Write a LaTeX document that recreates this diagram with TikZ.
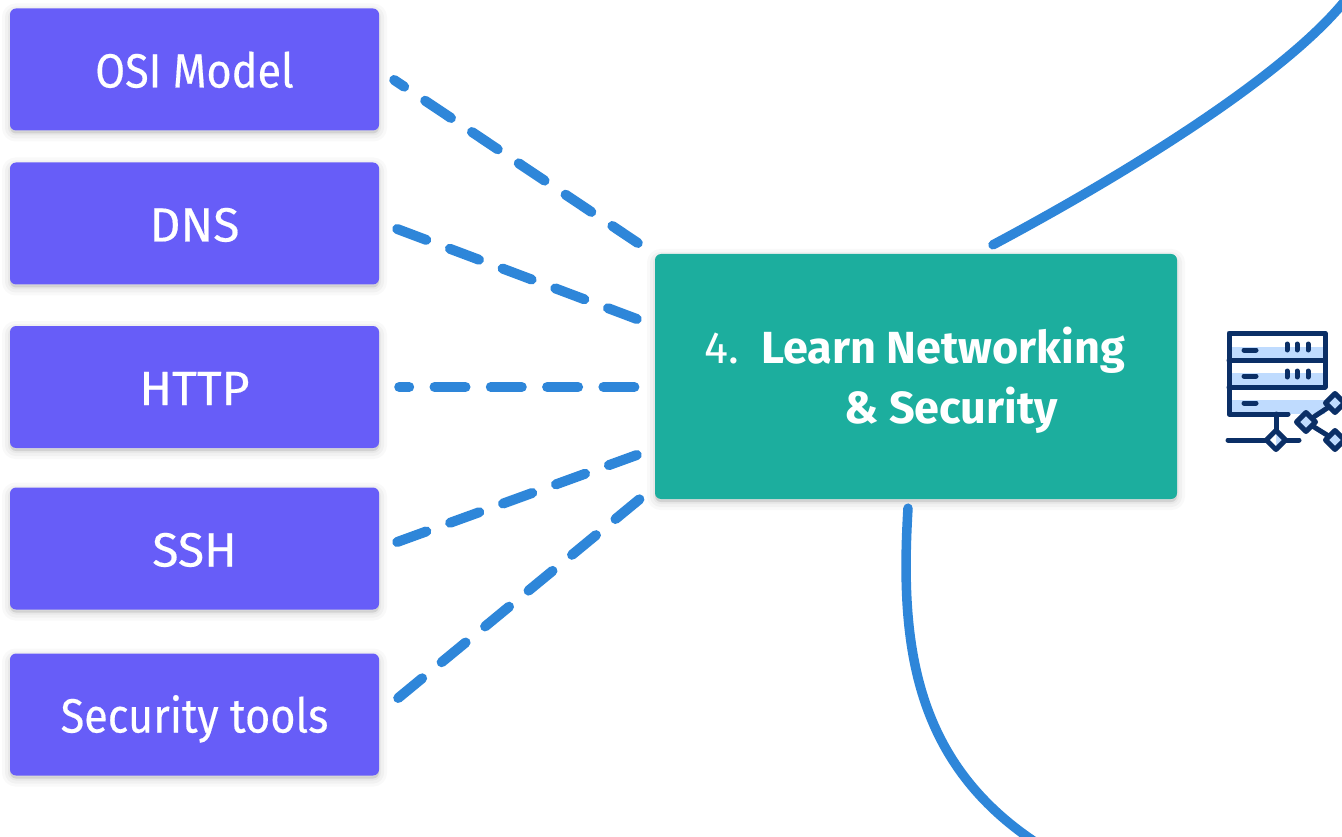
\documentclass[tikz,border=0pt]{standalone}
\usepackage{fontspec}
\setmainfont{Fira Sans}
\newfontfamily\topicfont[FakeBold=.35, FakeStretch=.9]{Fira Sans}
\newfontfamily\capsfont[FakeBold=.35]{Fira Sans}
\usetikzlibrary{positioning}
\usetikzlibrary{shapes,shadows,arrows}
\definecolor{topicblue}{HTML}{675DF8}
\definecolor{maingreen}{HTML}{1CAE9E}
\definecolor{linkblue}{HTML}{2E86D9}
\definecolor{icondark}{HTML}{0B2F66}
\definecolor{iconlight}{HTML}{BFDBFE}
\tikzset{
  softshadow/.style={
    drop shadow={shadow xshift=0pt, shadow yshift=-3pt, opacity=.025, fill=black, draw=black, line width=16pt},
    drop shadow={shadow xshift=0pt, shadow yshift=-3pt, opacity=.03, fill=black, draw=black, line width=10pt},
    drop shadow={shadow xshift=0pt, shadow yshift=-3pt, opacity=.035, fill=black, draw=black, line width=4pt}},
  topic/.style={rectangle, rounded corners=6pt, fill=topicblue, text=white, minimum width=369pt, minimum height=122pt, inner sep=0pt, text height=36pt, text depth=0pt, font=\fontsize{48}{56}\topicfont, softshadow},
  capstopic/.style={topic, font=\fontsize{48}{56}\capsfont},
  mainbox/.style={rectangle, rounded corners=6pt, fill=maingreen, text=white, minimum width=522pt, minimum height=245pt, inner sep=0pt, softshadow},
  maintext/.style={text=white, anchor=base west, inner sep=0pt, font=\fontsize{45}{54}\selectfont},
  dashlink/.style={linkblue, line width=10pt, line cap=round, dash pattern=on 31pt off 25.3pt},
  curvelink/.style={linkblue, line width=9.5pt, line cap=round},
  iconline/.style={icondark, line width=5pt, line cap=round, line join=round},
  icondiamond/.style={icondark, line width=5pt, line join=round, fill=iconlight},
}
\begin{document}
\begin{tikzpicture}[x=1pt, y=-1pt]
\useasboundingbox (0,0) rectangle (1342,837);
\clip (0,0) rectangle (1342,837);
\fill [white] (0,0) rectangle (1342,837);
\node [topic] (osi) at (194.5,69.5) {OSI Model};
\node [capstopic] (dns) at (194.5,223.5) {DNS};
\node [capstopic] (http) at (194.5,387) {HTTP};
\node [capstopic] (ssh) at (194.5,548.5) {SSH};
\node [topic] (sectools) at (194.5,714.5) {Security tools};
\node [mainbox] (net) at (916,376.5) {};
\node [maintext] (num) at (704,363) {4.};
\node [maintext, font=\fontsize{45}{54}\selectfont\bfseries] (learn) at (761,363) {Learn Networking};
\node [maintext, font=\fontsize{45}{54}\selectfont\bfseries] (sec) at (844,423) {\& Security};
% dashed links
\draw [dashlink, dash phase=19pt] ([shift={(15,10.5)}]osi.east) -- ([shift={(-17,-133.5)}]net.west);
\draw [dashlink] ([shift={(18,5.5)}]dns.east) -- ([shift={(-18,-57.5)}]net.west);
\draw [dashlink, dash phase=21pt] ([shift={(20,0)}]http.east) -- ([shift={(-20,10.5)}]net.west);
\draw [dashlink] ([shift={(18,-6.5)}]ssh.east) -- ([shift={(-18,78.5)}]net.west);
\draw [dashlink] ([shift={(19,-16.5)}]sectools.east) -- ([shift={(-15,122.5)}]net.west);
% curves
\draw [curvelink] ([shift={(77,-9)}]net.north) .. controls (1111,182) and (1285,78) .. (1348,-3);
\draw [curvelink] ([shift={(-8,9)}]net.south) .. controls (900,640) and (912,760) .. (1035,842);
% icon
\fill [white] (1228,333) rectangle (1325,414);
\fill [iconlight] (1228,347) rectangle (1325,360);
\fill [iconlight] (1228,373) rectangle (1325,387);
\fill [iconlight] (1228,400) rectangle (1325,414);
\draw [iconline] (1288,414) -- (1229,414) -- (1229,333) -- (1325,333) -- (1325,387);
\draw [iconline] (1229,360) -- (1325,360);
\draw [iconline] (1229,387) -- (1325,387);
\draw [iconline] (1244,350) -- (1256,350);
\draw [iconline] (1244,376) -- (1256,376);
\draw [iconline] (1244,403) -- (1256,403);
\foreach \px in {1287,1297,1308} {
  \draw [iconline] (\px,344) -- (\px,350);
  \draw [iconline] (\px,371) -- (\px,377);
}
\draw [iconline] (1276,414) -- (1276,430);
\draw [iconline] (1228,440) -- (1299,440);
\draw [iconline] (1306,422) -- (1335,403);
\draw [iconline] (1306,422) -- (1335,440);
\foreach \cx/\cy in {1276/440,1306/422,1335/403,1335/440} {
  \draw [icondiamond] (\cx-9.5,\cy) -- (\cx,\cy-9.5) -- (\cx+9.5,\cy) -- (\cx,\cy+9.5) -- cycle;
}
\fill [white] (1270,440) -- (1276,434) -- (1276,446) -- cycle;
\end{tikzpicture}
\end{document}
